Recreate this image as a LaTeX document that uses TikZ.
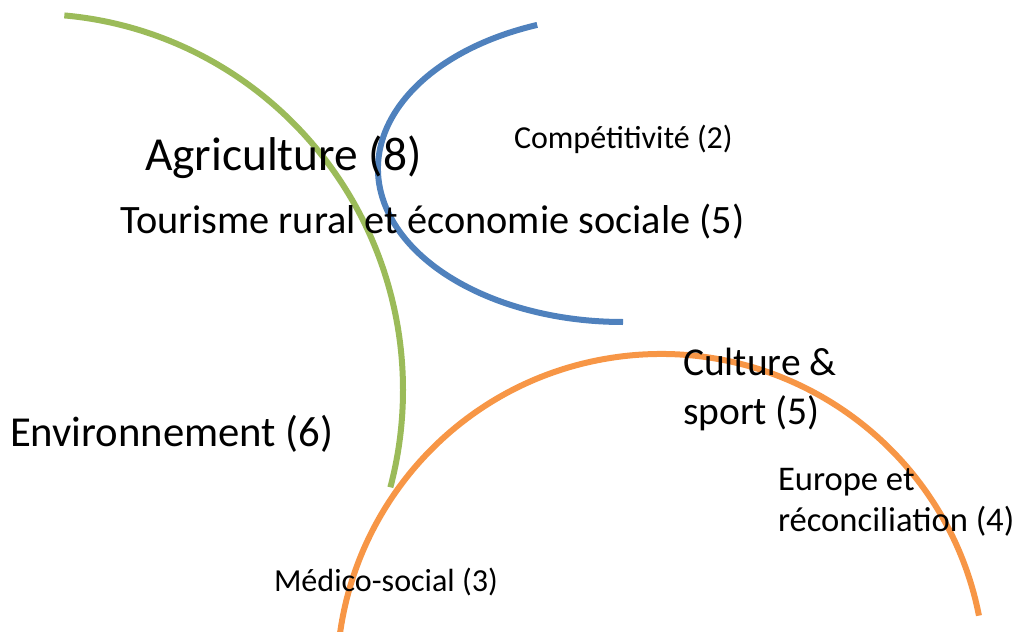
\documentclass[tikz,border=0pt]{standalone}
\usepackage{fontspec}
\setmainfont{Carlito}
\definecolor{arcgreen}{HTML}{9BBB59}
\definecolor{arcblue}{HTML}{4F81BD}
\definecolor{arcorange}{HTML}{F79646}
\begin{document}
\begin{tikzpicture}[x=1pt,y=-1pt,
  arcline/.style={line width=6pt},
  lbl/.style={anchor=base west, inner sep=0pt, outer sep=0pt, text=black}]
\useasboundingbox (0,0) rectangle (1016,631);
\clip (0,0) rectangle (1016,631);
% arcs
\draw[arcline, arcgreen] ([shift={(-85:371 and 376)}]32,390)
  arc[start angle=-85, end angle=15, x radius=371, y radius=376];
\draw[arcline, arcblue] ([shift={(249.5:245 and 153.4)}]623,168.6)
  arc[start angle=249.5, end angle=90, x radius=245, y radius=153.4];
\draw[arcline, arcorange] ([shift={(171:324 and 324)}]661,678)
  arc[start angle=171, end angle=348.9, x radius=324, y radius=324];
% labels
\node[lbl, font=\fontsize{47.4}{57}\selectfont] (agri) at (145,171) {Agriculture (8)};
\node[lbl, font=\fontsize{32}{38}\selectfont] (comp) at (514,149) {Compétitivité (2)};
\node[lbl, font=\fontsize{40.3}{48}\selectfont] (tour) at (120,233) {Tourisme rural et économie sociale (5)};
\node[lbl, font=\fontsize{42.7}{51}\selectfont] (env) at (10,446) {Environnement (6)};
\node[lbl, align=left, font=\fontsize{39.5}{49}\selectfont] (cult) at (683,424) {Culture \&\\sport (5)};
\node[lbl, align=left, font=\fontsize{34.6}{41}\selectfont] (eur) at (778,531) {Europe et\\réconciliation (4)};
\node[lbl, font=\fontsize{32.1}{38}\selectfont] (med) at (274,591) {Médico-social (3)};
\end{tikzpicture}
\end{document}
